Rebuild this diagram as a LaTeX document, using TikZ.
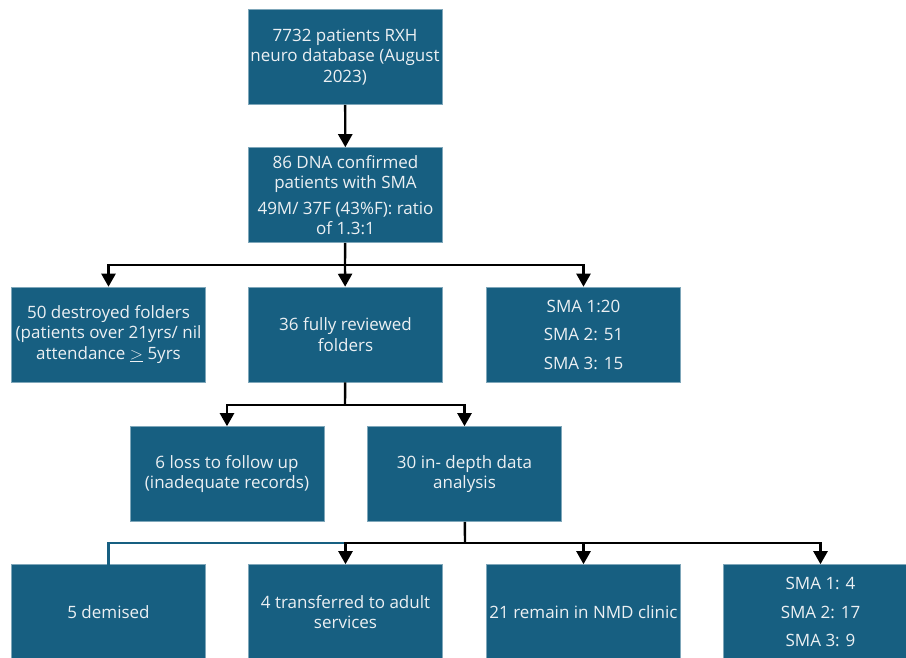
\documentclass[tikz,border=0pt]{standalone}
\usepackage{fontspec}
\setmainfont{Open Sans}
\usetikzlibrary{arrows.meta}
\definecolor{boxblue}{RGB}{23,95,129}
\definecolor{boxtext}{RGB}{236,240,243}

\begin{document}
\begin{tikzpicture}[x=1pt,y=-1pt,
  box/.style={draw=boxblue!55!white, line width=0.6pt, fill=boxblue, text=boxtext,
    minimum width=194pt, minimum height=95pt, inner sep=2pt, align=center,
    font=\fontsize{17}{20.5}\selectfont},
  flow/.style={draw=black, line width=2.4pt, -{Triangle[length=13pt,width=14pt]}},
  bar/.style={draw=black, line width=2.4pt},
  bluebar/.style={draw=boxblue, line width=2.4pt}]
\useasboundingbox (0,0) rectangle (906,657);
\clip (0,0) rectangle (906,657);
\node[box] (db) at (345,57) {7732 patients RXH\\neuro database (August\\2023)};
\node[box] (dna) at (345.5,195) {86 DNA confirmed\\patients with SMA\\[5pt]49M/ 37F (43\%F): ratio\\of 1.3:1};
\node[box] (destroyed) at (108.5,334.5) {50 destroyed folders\\(patients over 21yrs/ nil\\attendance $\underline{>}$ 5yrs};
\node[box] (reviewed) at (345.5,334.5) {36 fully reviewed\\folders};
\node[box] (types) at (583.5,334.5) {SMA 1:20\\[8pt]SMA 2: 51\\[8pt]SMA 3: 15};
\node[box] (lost) at (227,474) {6 loss to follow up\\(inadequate records)};
\node[box] (analysis) at (464.5,474) {30 in- depth data\\analysis};
\node[box] (demised) at (108.5,612) {5 demised};
\node[box] (transfer) at (345.5,612) {4 transferred to adult\\services};
\node[box] (remain) at (583.5,612) {21 remain in NMD clinic};
\node[box] (sma) at (820.5,612) {SMA 1: 4\\[8pt]SMA 2: 17\\[8pt]SMA 3: 9};

\coordinate (s1) at (345,265);
\coordinate (s2) at (345,405);
\coordinate (s3) at (465,543);
\coordinate (s4) at (345,543);

\draw[flow] (db) -- (dna);
\draw[bar] (dna) -- (s1);
\draw[flow] (s1) -| (destroyed);
\draw[flow] (s1) -- (reviewed);
\draw[flow] (s1) -| (types);
\draw[bar] (reviewed) -- (s2);
\draw[flow] (s2) -| (lost);
\draw[flow] (s2) -| (analysis);
\draw[bluebar] (s4) -| ([yshift=-2pt]demised.north);
\draw[bar] (analysis) -- (s3);
\draw[flow] (s3) -| (transfer);
\draw[flow] (s3) -| (remain);
\draw[flow] (s3) -| (sma);
\end{tikzpicture}
\end{document}
